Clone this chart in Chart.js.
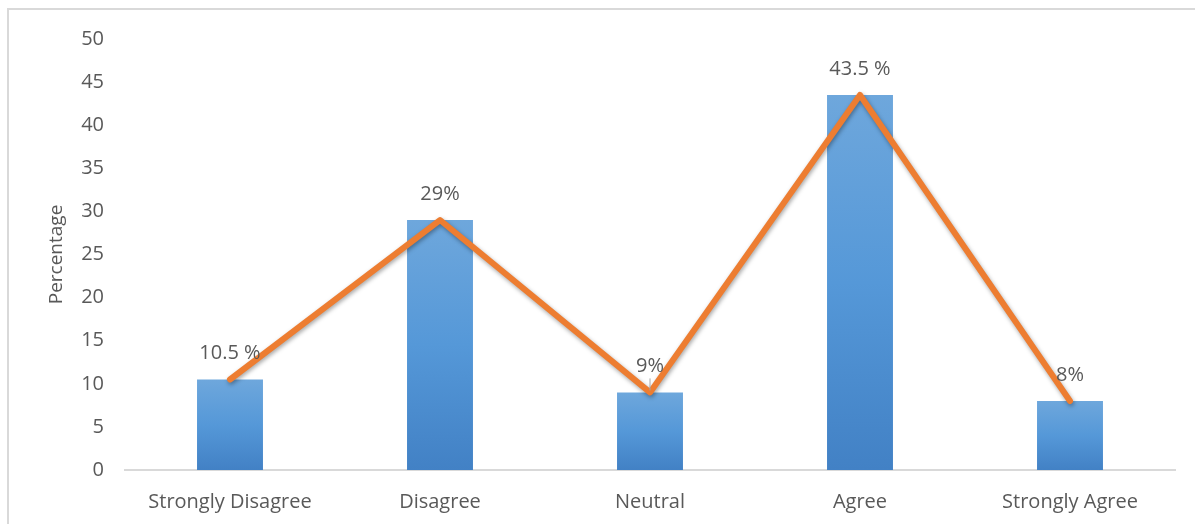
<!DOCTYPE html>
<html>
<head>
<meta charset="utf-8">
<script src="https://cdn.jsdelivr.net/npm/chart.js@4.4.0/dist/chart.umd.min.js"></script>
<style>
  html, body { margin: 0; padding: 0; background: #fff; }
  #frame { position: absolute; left: 7px; top: 8px; width: 1200px; height: 530px; border: 2px solid #d9d9d9; }
  #wrap { position: absolute; left: 0; top: 0; width: 1195px; height: 524px; }
</style>
</head>
<body>
<div id="frame"></div>
<div id="wrap"><canvas id="myChart" width="1195" height="524"></canvas></div>
<script>
// data
var categories = ["Strongly Disagree", "Disagree", "Neutral", "Agree", "Strongly Agree"];
var percentages = [10.5, 29, 9, 43.5, 8];
var valueLabels = ["10.5 %", "29%", "9%", "43.5 %", "8%"];
var yTicks = [0, 5, 10, 15, 20, 25, 30, 35, 40, 45, 50];

var textColor = '#595959';
var fontFamily = "'Open Sans', 'Noto Sans', sans-serif";

// gradient per bar, light at the top, darker at the bottom
function barFill(ctx) {
	var chart = ctx.chart;
	if (!chart.chartArea || ctx.dataIndex === undefined) return '#5b9bd5';
	var y = chart.scales.y;
	var top = y.getPixelForValue(percentages[ctx.dataIndex]);
	var bottom = y.getPixelForValue(0);
	var g = chart.ctx.createLinearGradient(0, top, 0, bottom);
	g.addColorStop(0, '#6ea7dc');
	g.addColorStop(0.5, '#5598d8');
	g.addColorStop(1, '#4281c5');
	return g;
}

// value labels above the points, and a small leader line for Neutral
var valueLabelPlugin = {
	id: 'valueLabels',
	afterDatasetsDraw: function (chart) {
		var c = chart.ctx;
		var meta = chart.getDatasetMeta(0);
		c.save();
		c.font = "20px " + fontFamily;
		c.fillStyle = textColor;
		c.textAlign = 'center';
		c.textBaseline = 'middle';
		meta.data.forEach(function (bar, i) {
			c.fillText(valueLabels[i], bar.x, bar.y - 26);
			if (i === 2) {
				c.strokeStyle = '#a6a6a6';
				c.lineWidth = 1;
				c.beginPath();
				c.moveTo(bar.x, bar.y - 14);
				c.lineTo(bar.x, bar.y - 2);
				c.stroke();
			}
		});
		c.restore();
	}
};

// soft shadow under the orange line
var lineShadowPlugin = {
	id: 'lineShadow',
	beforeDatasetDraw: function (chart, args) {
		if (args.index !== 1) return;
		var c = chart.ctx;
		c.save();
		c.shadowColor = 'rgba(0,0,0,0.35)';
		c.shadowBlur = 4;
		c.shadowOffsetX = 1;
		c.shadowOffsetY = 2;
	},
	afterDatasetDraw: function (chart, args) {
		if (args.index !== 1) return;
		chart.ctx.restore();
	}
};

var el = document.getElementById('myChart');
var myChart = new Chart(el, {
	data: {
		labels: categories,
		datasets: [{
			type: 'bar',
			label: 'Percentage',
			data: percentages,
			backgroundColor: barFill,
			borderWidth: 0,
			categoryPercentage: 1,
			barPercentage: 0.314,
			order: 2
		}, {
			type: 'line',
			label: 'Trend',
			data: percentages,
			borderColor: '#ed7d31',
			borderWidth: 6,
			borderJoinStyle: 'round',
			borderCapStyle: 'round',
			tension: 0,
			pointRadius: 0,
			fill: false,
			order: 1
		}]
	},
	options: {
		responsive: false,
		animation: false,
		devicePixelRatio: 1,
		layout: { padding: { left: 8, right: 20, top: 39, bottom: 0 } },
		plugins: {
			legend: { display: false },
			tooltip: { enabled: false }
		},
		scales: {
			x: {
				grid: { display: false, drawTicks: false },
				border: { display: true, color: '#d9d9d9', width: 2 },
				ticks: { color: textColor, font: { family: fontFamily, size: 20 }, padding: 20 },
				afterFit: function (s) { s.height = 54; }
			},
			y: {
				min: 0,
				max: 50,
				afterBuildTicks: function (s) { s.ticks = yTicks.map(function (v) { return { value: v }; }); },
				grid: { display: false, drawTicks: false },
				border: { display: false },
				ticks: { color: textColor, font: { family: fontFamily, size: 20 }, padding: 21 },
				title: {
					display: true,
					text: 'Percentage',
					color: textColor,
					font: { family: fontFamily, size: 19 },
					padding: { top: 37, bottom: 0 }
				},
				afterFit: function (s) { s.width = 117; }
			}
		}
	},
	plugins: [valueLabelPlugin, lineShadowPlugin]
});
</script>
</body>
</html>
